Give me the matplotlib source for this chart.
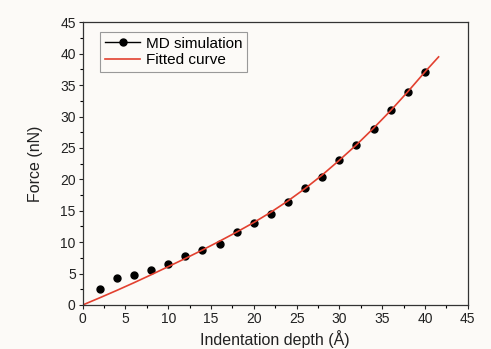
import numpy as np
import matplotlib
matplotlib.use("Agg")
import matplotlib.pyplot as plt
from matplotlib.ticker import MultipleLocator

plt.rcParams['font.family'] = ['Liberation Sans', 'DejaVu Sans']

# MD simulation points
depth = [2, 4, 6, 8, 10, 12, 14, 16, 18, 20,
         22, 24, 26, 28, 30, 32, 34, 36, 38, 40]
force = [2.6, 4.3, 4.8, 5.5, 6.5, 7.85, 8.8, 9.7, 11.6, 13.1,
         14.5, 16.45, 18.6, 20.4, 23.1, 25.5, 27.95, 31.05, 33.95, 37.15]

# fitted curve
fit_depth = [0, 2, 4, 6, 8, 10, 12, 14, 16, 18, 20,
             22, 24, 26, 28, 30, 32, 34, 36, 38, 40, 41.6]
fit_force = [0, 1.15, 2.33, 3.55, 4.81, 6.11, 7.41, 8.76, 10.16, 11.61, 13.13,
             14.78, 16.58, 18.55, 20.70, 23.05, 25.50, 28.15, 30.95, 33.95, 37.10, 39.5]

bg = '#fcfaf7'
fig = plt.figure(figsize=(4.91, 3.49), dpi=100, facecolor=bg)
ax = fig.add_axes([0.1684, 0.1261, 0.7841, 0.8099], facecolor=bg)

ax.plot(depth, force, color='black', marker='o', markersize=5, linestyle='none',
        label='MD simulation')
ax.plot(fit_depth, fit_force, color='#e2402f', linewidth=1.2, label='Fitted curve')

ax.set_xlim(0, 45)
ax.set_ylim(0, 45)
ax.xaxis.set_major_locator(MultipleLocator(5))
ax.xaxis.set_minor_locator(MultipleLocator(2.5))
ax.yaxis.set_major_locator(MultipleLocator(5))
ax.yaxis.set_minor_locator(MultipleLocator(2.5))
ax.tick_params(which='major', direction='out', length=3, width=0.8, labelsize=10,
               pad=2, colors='#222222')
ax.tick_params(which='minor', direction='out', length=2, width=0.8)
for s in ax.spines.values():
    s.set_color('#333333')
    s.set_linewidth(0.9)

ax.set_xlabel('Indentation depth (Å)', fontsize=11.5, color='#222222', labelpad=3)
ax.set_ylabel('Force (nN)', fontsize=11.5, color='#222222', labelpad=12)

# legend: black line with dot for MD simulation
h1 = plt.Line2D([], [], color='black', marker='o', markersize=5, linewidth=1)
h2 = plt.Line2D([], [], color='#e2402f', linewidth=1.2)
leg = ax.legend([h1, h2], ['MD simulation', 'Fitted curve'], loc='upper left',
                bbox_to_anchor=(0.046, 0.965), fontsize=11, frameon=True, fancybox=False,
                edgecolor='#999999', facecolor=bg, framealpha=1, handlelength=2.3,
                handletextpad=0.4, borderpad=0.3, labelspacing=0.15, borderaxespad=0)
leg.get_frame().set_linewidth(0.8)

fig.savefig('out.png', dpi=100, facecolor=bg)
